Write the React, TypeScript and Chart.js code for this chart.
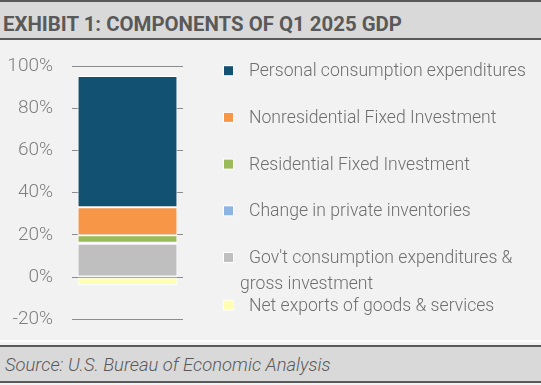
import React, { useEffect, useRef } from "react";
import { Chart, registerables } from "chart.js";

Chart.register(...registerables);

// ---- data ----
const categories = ["Q1 2025"];
// stacking order (bottom to top)
const seriesNames = [
  "Gov't consumption expenditures & gross investment",
  "Change in private inventories",
  "Residential Fixed Investment",
  "Nonresidential Fixed Investment",
  "Personal consumption expenditures",
  "Net exports of goods & services",
];
const seriesValues = [15.8, 0.5, 3.5, 13.3, 62.2, -3.8];
const seriesColors = ["#bfbfbf", "#8db4e2", "#9bbb59", "#f79646", "#135173", "#ffffb3"];
// legend order (top to bottom) and displayed text lines
const legendOrder = [4, 3, 2, 1, 0, 5];
const legendLines: string[][] = [
  ["Personal consumption expenditures"],
  ["Nonresidential Fixed Investment"],
  ["Residential Fixed Investment"],
  ["Change in private inventories"],
  ["Gov't consumption expenditures &", "gross investment"],
  ["Net exports of goods & services"],
];
const yTicks = [-20, 0, 20, 40, 60, 80, 100];

const FONT = "Roboto, sans-serif";

const legendPlugin = {
  id: "customLegend",
  afterDraw(chart: any) {
    const ctx = chart.ctx as CanvasRenderingContext2D;
    ctx.save();
    ctx.font = `300 17.6px ${FONT}`;
    ctx.textBaseline = "middle";
    ctx.textAlign = "left";
    let y = 30.7;
    legendOrder.forEach((dsIndex, i) => {
      const ds = chart.data.datasets[dsIndex];
      const boxX = 224;
      const boxSize = 9;
      ctx.fillStyle = "#ffffff";
      ctx.fillRect(boxX - 1, y - boxSize / 2 - 1, boxSize + 2, boxSize + 2);
      ctx.fillStyle = ds.backgroundColor;
      ctx.fillRect(boxX, y - boxSize / 2, boxSize, boxSize);
      ctx.fillStyle = "#6f6f6f";
      const lines = legendLines[i];
      ctx.fillText(lines[0], 249, y + 1);
      for (let k = 1; k < lines.length; k++) {
        ctx.fillText(lines[k], 240, y + 1 + 26 * k);
      }
      y += lines.length > 1 ? 47.7 : 46.7;
    });
    ctx.restore();
  },
};

function ChartCanvas() {
  const ref = useRef<HTMLCanvasElement>(null);
  useEffect(() => {
    if (!ref.current) return;
    const chart = new Chart(ref.current, {
      type: "bar",
      data: {
        labels: categories,
        datasets: seriesNames.map((name, i) => ({
          label: name,
          data: [seriesValues[i]],
          backgroundColor: seriesColors[i],
          borderColor: "#ffffff",
          borderWidth: 1,
          borderSkipped: false,
          categoryPercentage: 1,
          barPercentage: 0.9,
        })),
      },
      options: {
        animation: false,
        responsive: false,
        maintainAspectRatio: false,
        layout: { padding: { left: 0, right: 358, top: 26, bottom: 25.7 } },
        plugins: { legend: { display: false }, tooltip: { enabled: false } },
        scales: {
          x: { stacked: true, display: false },
          y: {
            stacked: true,
            min: -20,
            max: 100,
            afterFit(scale: any) {
              scale.width = 72;
              scale.paddingTop = 0;
              scale.paddingBottom = 0;
            },
            afterBuildTicks(scale: any) {
              scale.ticks = yTicks.map((v) => ({ value: v }));
            },
            border: { display: false },
            grid: { color: "#8c8c8c", lineWidth: 1, drawTicks: false },
            ticks: {
              padding: 19,
              color: "#7f7f7f",
              font: { family: FONT, size: 19, weight: "300" },
              callback: (v: any) => `${v}%`,
            },
          },
        },
      },
      plugins: [legendPlugin],
    });
    return () => chart.destroy();
  }, []);
  return (
    <canvas
      ref={ref}
      width={541}
      height={305}
      style={{ position: "absolute", left: 0, top: 40, width: 541, height: 305 }}
    />
  );
}

export default function App() {
  return (
    <div
      style={{
        position: "absolute",
        left: 0,
        top: 0,
        width: 541,
        height: 385,
        background: "#f2f2f2",
        overflow: "hidden",
        fontFamily: FONT,
      }}
    >
      <div
        style={{
          position: "absolute",
          left: 0,
          top: 0,
          width: 541,
          height: 36,
          background: "#d9d9d9",
          borderTop: "2px solid #595959",
          borderBottom: "2px solid #595959",
        }}
      />
      <div
        style={{
          position: "absolute",
          left: 3,
          top: 11,
          lineHeight: "26px",
          fontSize: 20.4,
          fontWeight: "bold",
          color: "#595959",
          whiteSpace: "nowrap",
        }}
      >
        EXHIBIT 1: COMPONENTS OF Q1 2025 GDP
      </div>
      <ChartCanvas />
      <div
        style={{
          position: "absolute",
          left: 0,
          top: 340,
          width: 541,
          height: 2,
          background: "#fbfbfb",
        }}
      />
      <div
        style={{
          position: "absolute",
          left: 0,
          top: 345,
          width: 541,
          height: 34,
          background: "#d9d9d9",
          borderTop: "2px solid #595959",
          borderBottom: "2px solid #595959",
        }}
      />
      <div
        style={{
          position: "absolute",
          left: 5,
          top: 353,
          lineHeight: "24px",
          fontSize: 18.4,
          fontStyle: "italic",
          fontWeight: 300,
          color: "#595959",
          whiteSpace: "nowrap",
        }}
      >
        Source: U.S. Bureau of Economic Analysis
      </div>
    </div>
  );
}
